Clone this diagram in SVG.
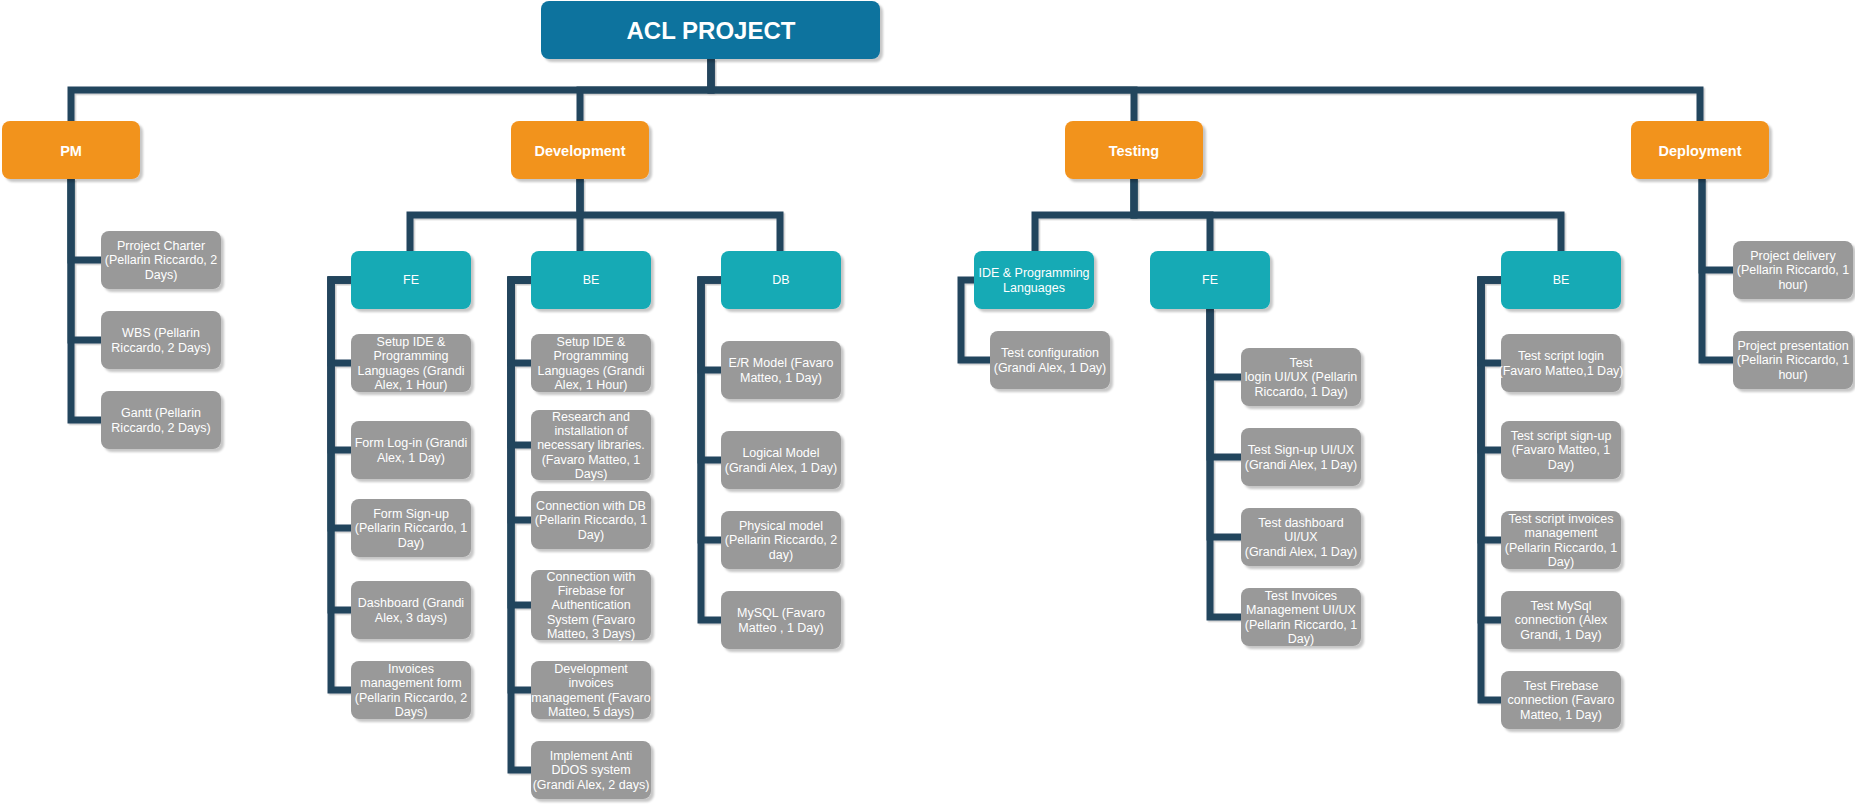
<svg xmlns="http://www.w3.org/2000/svg" width="1855" height="804" viewBox="0 0 1855 804">
<style>
.conn{fill:none;stroke:#23445D;stroke-width:7;stroke-linejoin:miter;stroke-linecap:butt}
.root{fill:#10739E}
.l1{fill:#F2931E}
.l2{fill:#12AAB5}
.g{fill:#999999}
rect{filter:url(#sh)}
text{font-family:"Liberation Sans",Arial,sans-serif;fill:#FFFFFF;text-anchor:middle}
.t{font-size:12.5px}
.b1{font-size:14.5px;font-weight:bold}
.b0{font-size:24px;font-weight:bold}
</style>
<defs>
<filter id="sh" x="-10%" y="-10%" width="130%" height="140%">
<feDropShadow dx="3" dy="3" stdDeviation="0.8" flood-color="#000000" flood-opacity="0.22"/>
</filter>
<filter id="lsh" x="-5%" y="-5%" width="110%" height="110%">
<feDropShadow dx="1.5" dy="1.5" stdDeviation="0.5" flood-color="#000000" flood-opacity="0.2"/>
</filter>
</defs>
<rect width="1855" height="804" fill="#FFFFFF" style="filter:none"/>
<g id="connectors" filter="url(#lsh)">
<path class="conn" d="M711 59V90H71V121"/>
<path class="conn" d="M711 59V90H580V121"/>
<path class="conn" d="M711 59V90H1134V121"/>
<path class="conn" d="M711 59V90H1700V121"/>
<path class="conn" d="M71 179V260H101"/>
<path class="conn" d="M71 179V340H101"/>
<path class="conn" d="M71 179V420H101"/>
<path class="conn" d="M580 179V215H410V251"/>
<path class="conn" d="M580 179V251"/>
<path class="conn" d="M580 179V215H780V251"/>
<path class="conn" d="M351 280H331V363H351"/>
<path class="conn" d="M351 280H331V450H351"/>
<path class="conn" d="M351 280H331V528H351"/>
<path class="conn" d="M351 280H331V610H351"/>
<path class="conn" d="M351 280H331V690H351"/>
<path class="conn" d="M531 280H511V363H531"/>
<path class="conn" d="M531 280H511V445H531"/>
<path class="conn" d="M531 280H511V520H531"/>
<path class="conn" d="M531 280H511V605H531"/>
<path class="conn" d="M531 280H511V690H531"/>
<path class="conn" d="M531 280H511V770H531"/>
<path class="conn" d="M721 280H701V370H721"/>
<path class="conn" d="M721 280H701V460H721"/>
<path class="conn" d="M721 280H701V540H721"/>
<path class="conn" d="M721 280H701V620H721"/>
<path class="conn" d="M1134 179V215H1035V251"/>
<path class="conn" d="M1134 179V215H1210V251"/>
<path class="conn" d="M1134 179V215H1561V251"/>
<path class="conn" d="M974 280H961V360H990"/>
<path class="conn" d="M1210 309V377H1241"/>
<path class="conn" d="M1210 309V457H1241"/>
<path class="conn" d="M1210 309V537H1241"/>
<path class="conn" d="M1210 309V617H1241"/>
<path class="conn" d="M1501 280H1481V363H1501"/>
<path class="conn" d="M1501 280H1481V450H1501"/>
<path class="conn" d="M1501 280H1481V540H1501"/>
<path class="conn" d="M1501 280H1481V620H1501"/>
<path class="conn" d="M1501 280H1481V700H1501"/>
<path class="conn" d="M1702 179V270H1733"/>
<path class="conn" d="M1702 179V360H1733"/>
</g>

<g id="root"><rect class="root" x="541" y="1" width="339" height="58" rx="8"/><text class="b0" x="711" y="39.4">ACL PROJECT</text></g>

<g id="pm"><rect class="l1" x="2" y="121" width="138" height="58" rx="8"/><text class="b1" x="71" y="155.5">PM</text></g>
<g id="development"><rect class="l1" x="511" y="121" width="138" height="58" rx="8"/><text class="b1" x="580" y="155.5">Development</text></g>
<g id="testing"><rect class="l1" x="1065" y="121" width="138" height="58" rx="8"/><text class="b1" x="1134" y="155.5">Testing</text></g>
<g id="deployment"><rect class="l1" x="1631" y="121" width="138" height="58" rx="8"/><text class="b1" x="1700" y="155.5">Deployment</text></g>

<g id="pm-charter"><rect class="g" x="101" y="231" width="120" height="58" rx="8"/><text class="t" x="161" y="250">Prroject Charter<tspan x="161" dy="14.4">(Pellarin Riccardo, 2</tspan><tspan x="161" dy="14.4">Days)</tspan></text></g>
<g id="pm-wbs"><rect class="g" x="101" y="311" width="120" height="58" rx="8"/><text class="t" x="161" y="337.2">WBS (Pellarin<tspan x="161" dy="14.4">Riccardo, 2 Days)</tspan></text></g>
<g id="pm-gantt"><rect class="g" x="101" y="391" width="120" height="58" rx="8"/><text class="t" x="161" y="417.2">Gantt (Pellarin<tspan x="161" dy="14.4">Riccardo, 2 Days)</tspan></text></g>

<g id="dev-fe"><rect class="l2" x="351" y="251" width="120" height="58" rx="8"/><text class="t" x="411" y="284.4">FE</text></g>
<g id="dev-be"><rect class="l2" x="531" y="251" width="120" height="58" rx="8"/><text class="t" x="591" y="284.4">BE</text></g>
<g id="dev-db"><rect class="l2" x="721" y="251" width="120" height="58" rx="8"/><text class="t" x="781" y="284.4">DB</text></g>

<g id="fe-setup"><rect class="g" x="351" y="334" width="120" height="58" rx="8"/><text class="t" x="411" y="345.8">Setup IDE &amp;<tspan x="411" dy="14.4">Programming</tspan><tspan x="411" dy="14.4">Languages (Grandi</tspan><tspan x="411" dy="14.4">Alex, 1 Hour)</tspan></text></g>
<g id="fe-login"><rect class="g" x="351" y="421" width="120" height="58" rx="8"/><text class="t" x="411" y="447.2">Form Log-in (Grandi<tspan x="411" dy="14.4">Alex, 1 Day)</tspan></text></g>
<g id="fe-signup"><rect class="g" x="351" y="499" width="120" height="58" rx="8"/><text class="t" x="411" y="518">Form Sign-up<tspan x="411" dy="14.4">(Pellarin Riccardo, 1</tspan><tspan x="411" dy="14.4">Day)</tspan></text></g>
<g id="fe-dashboard"><rect class="g" x="351" y="581" width="120" height="58" rx="8"/><text class="t" x="411" y="607.2">Dashboard (Grandi<tspan x="411" dy="14.4">Alex, 3 days)</tspan></text></g>
<g id="fe-invoices"><rect class="g" x="351" y="661" width="120" height="58" rx="8"/><text class="t" x="411" y="672.8">Invoices<tspan x="411" dy="14.4">management form</tspan><tspan x="411" dy="14.4">(Pellarin Riccardo, 2</tspan><tspan x="411" dy="14.4">Days)</tspan></text></g>

<g id="be-setup"><rect class="g" x="531" y="334" width="120" height="58" rx="8"/><text class="t" x="591" y="345.8">Setup IDE &amp;<tspan x="591" dy="14.4">Programming</tspan><tspan x="591" dy="14.4">Languages (Grandi</tspan><tspan x="591" dy="14.4">Alex, 1 Hour)</tspan></text></g>
<g id="be-research"><rect class="g" x="531" y="410" width="120" height="70" rx="8"/><text class="t" x="591" y="420.6">Research and<tspan x="591" dy="14.4">installation of</tspan><tspan x="591" dy="14.4">necessary libraries.</tspan><tspan x="591" dy="14.4">(Favaro Matteo, 1</tspan><tspan x="591" dy="14.4">Days)</tspan></text></g>
<g id="be-conndb"><rect class="g" x="531" y="491" width="120" height="58" rx="8"/><text class="t" x="591" y="510">Connection with DB<tspan x="591" dy="14.4">(Pellarin Riccardo, 1</tspan><tspan x="591" dy="14.4">Day)</tspan></text></g>
<g id="be-firebase"><rect class="g" x="531" y="570" width="120" height="70" rx="8"/><text class="t" x="591" y="580.6">Connection with<tspan x="591" dy="14.4">Firebase for</tspan><tspan x="591" dy="14.4">Authentication</tspan><tspan x="591" dy="14.4">System (Favaro</tspan><tspan x="591" dy="14.4">Matteo, 3 Days)</tspan></text></g>
<g id="be-invoices"><rect class="g" x="531" y="661" width="120" height="58" rx="8"/><text class="t" x="591" y="672.8">Development<tspan x="591" dy="14.4">invoices</tspan><tspan x="591" dy="14.4">management (Favaro</tspan><tspan x="591" dy="14.4">Matteo, 5 days)</tspan></text></g>
<g id="be-ddos"><rect class="g" x="531" y="741" width="120" height="58" rx="8"/><text class="t" x="591" y="760">Implement Anti<tspan x="591" dy="14.4">DDOS system</tspan><tspan x="591" dy="14.4">(Grandi Alex, 2 days)</tspan></text></g>

<g id="db-er"><rect class="g" x="721" y="341" width="120" height="58" rx="8"/><text class="t" x="781" y="367.2">E/R Model (Favaro<tspan x="781" dy="14.4">Matteo, 1 Day)</tspan></text></g>
<g id="db-logical"><rect class="g" x="721" y="431" width="120" height="58" rx="8"/><text class="t" x="781" y="457.2">Logical Model<tspan x="781" dy="14.4">(Grandi Alex, 1 Day)</tspan></text></g>
<g id="db-physical"><rect class="g" x="721" y="511" width="120" height="58" rx="8"/><text class="t" x="781" y="530">Physical model<tspan x="781" dy="14.4">(Pellarin Riccardo, 2</tspan><tspan x="781" dy="14.4">day)</tspan></text></g>
<g id="db-mysql"><rect class="g" x="721" y="591" width="120" height="58" rx="8"/><text class="t" x="781" y="617.2">MySQL (Favaro<tspan x="781" dy="14.4">Matteo , 1 Day)</tspan></text></g>

<g id="test-ide"><rect class="l2" x="974" y="251" width="120" height="58" rx="8"/><text class="t" x="1034" y="277.2">IDE &amp; Programming<tspan x="1034" dy="14.4">Languages</tspan></text></g>
<g id="test-fe"><rect class="l2" x="1150" y="251" width="120" height="58" rx="8"/><text class="t" x="1210" y="284.4">FE</text></g>
<g id="test-be"><rect class="l2" x="1501" y="251" width="120" height="58" rx="8"/><text class="t" x="1561" y="284.4">BE</text></g>

<g id="test-config"><rect class="g" x="990" y="331" width="120" height="58" rx="8"/><text class="t" x="1050" y="357.2">Test configuration<tspan x="1050" dy="14.4">(Grandi Alex, 1 Day)</tspan></text></g>

<g id="tfe-login"><rect class="g" x="1241" y="348" width="120" height="58" rx="8"/><text class="t" x="1301" y="367">Test<tspan x="1301" dy="14.4">login UI/UX (Pellarin</tspan><tspan x="1301" dy="14.4">Riccardo, 1 Day)</tspan></text></g>
<g id="tfe-signup"><rect class="g" x="1241" y="428" width="120" height="58" rx="8"/><text class="t" x="1301" y="454.2">Test Sign-up UI/UX<tspan x="1301" dy="14.4">(Grandi Alex, 1 Day)</tspan></text></g>
<g id="tfe-dashboard"><rect class="g" x="1241" y="508" width="120" height="58" rx="8"/><text class="t" x="1301" y="527">Test dashboard<tspan x="1301" dy="14.4">UI/UX</tspan><tspan x="1301" dy="14.4">(Grandi Alex, 1 Day)</tspan></text></g>
<g id="tfe-invoices"><rect class="g" x="1241" y="588" width="120" height="58" rx="8"/><text class="t" x="1301" y="599.8">Test Invoices<tspan x="1301" dy="14.4">Management UI/UX</tspan><tspan x="1301" dy="14.4">(Pellarin Riccardo, 1</tspan><tspan x="1301" dy="14.4">Day)</tspan></text></g>

<g id="tbe-login"><rect class="g" x="1501" y="334" width="120" height="58" rx="8"/><text class="t" x="1561" y="360.2">Test script login<tspan x="1561" dy="14.4">(Favaro Matteo,1 Day)</tspan></text></g>
<g id="tbe-signup"><rect class="g" x="1501" y="421" width="120" height="58" rx="8"/><text class="t" x="1561" y="440">Test script sign-up<tspan x="1561" dy="14.4">(Favaro Matteo, 1</tspan><tspan x="1561" dy="14.4">Day)</tspan></text></g>
<g id="tbe-invoices"><rect class="g" x="1501" y="511" width="120" height="58" rx="8"/><text class="t" x="1561" y="522.8">Test script invoices<tspan x="1561" dy="14.4">management</tspan><tspan x="1561" dy="14.4">(Pellarin Riccardo, 1</tspan><tspan x="1561" dy="14.4">Day)</tspan></text></g>
<g id="tbe-mysql"><rect class="g" x="1501" y="591" width="120" height="58" rx="8"/><text class="t" x="1561" y="610">Test MySql<tspan x="1561" dy="14.4">connection (Alex</tspan><tspan x="1561" dy="14.4">Grandi, 1 Day)</tspan></text></g>
<g id="tbe-firebase"><rect class="g" x="1501" y="671" width="120" height="58" rx="8"/><text class="t" x="1561" y="690">Test Firebase<tspan x="1561" dy="14.4">connection (Favaro</tspan><tspan x="1561" dy="14.4">Matteo, 1 Day)</tspan></text></g>

<g id="dep-delivery"><rect class="g" x="1733" y="241" width="120" height="58" rx="8"/><text class="t" x="1793" y="260">Project delivery<tspan x="1793" dy="14.4">(Pellarin Riccardo, 1</tspan><tspan x="1793" dy="14.4">hour)</tspan></text></g>
<g id="dep-presentation"><rect class="g" x="1733" y="331" width="120" height="58" rx="8"/><text class="t" x="1793" y="350">Project presentation<tspan x="1793" dy="14.4">(Pellarin Riccardo, 1</tspan><tspan x="1793" dy="14.4">hour)</tspan></text></g>
</svg>
